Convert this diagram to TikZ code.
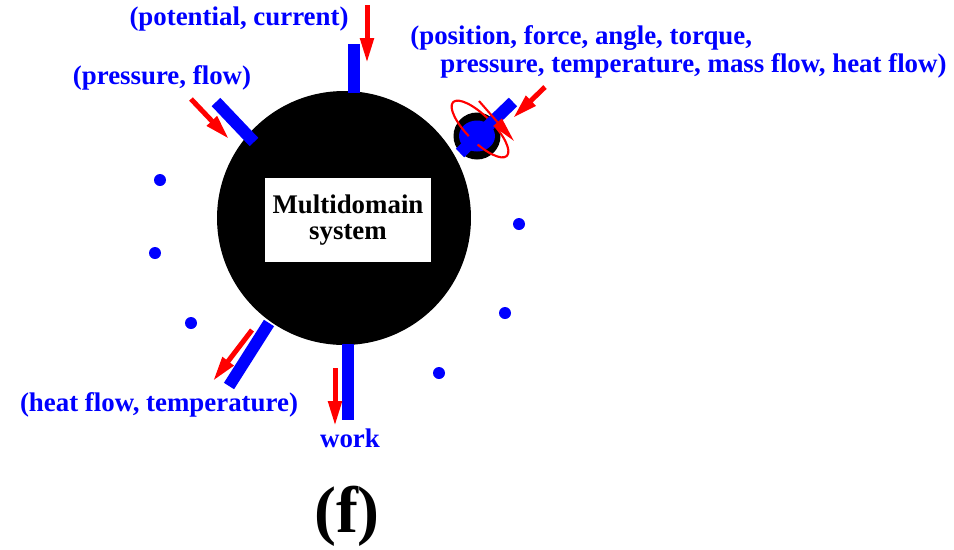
\documentclass[tikz,border=0pt]{standalone}
\usepackage{fontspec}
\setmainfont{Liberation Serif}
\usetikzlibrary{arrows.meta,shapes.geometric}

\tikzset{
  lbl/.style={text=blue,font=\bfseries\fontsize{15.3}{17}\selectfont,inner sep=0pt},
  bar/.style={blue,line width=0.24cm},
  flow/.style={red,line width=0.1cm,-{Triangle[length=0.5cm,width=0.26cm]}},
  dot/.style={circle,fill=blue,inner sep=0pt,minimum size=0.24cm},
}

\begin{document}
\begin{tikzpicture}[x=0.02cm,y=-0.02cm]
\useasboundingbox (0,0) rectangle (954,549);
% system
\node[circle,fill=black,minimum size=5.08cm,inner sep=0pt] (sys) at (344,218) {};
\node[fill=white,minimum width=3.34cm,minimum height=1.68cm,align=center,font=\bfseries\fontsize{15.3}{14.8}\selectfont] (box) at (348,220) {Multidomain\\system};
% ports
\coordinate (p1a) at (354,44);
\coordinate (p1b) at (354,93);
\coordinate (p2a) at (216,102);
\coordinate (p2b) at (254,142);
\coordinate (p3a) at (460,153);
\coordinate (p3b) at (513,102);
\coordinate (p4a) at (269,323);
\coordinate (p4b) at (229,386);
\coordinate (p5a) at (348,344);
\coordinate (p5b) at (348,420);
\draw[bar] (p1a) -- (p1b);
\draw[bar] (p2a) -- (p2b);
\draw[bar] (p4a) -- (p4b);
\draw[bar] (p5a) -- (p5b);
% rotating port
\node[circle,fill=black,minimum size=0.94cm,inner sep=0pt] (ball) at (477,136) {};
\node[ellipse,fill=blue,minimum width=0.72cm,minimum height=0.62cm,inner sep=0pt] (core) at (477,136) {};
\draw[red,line width=1.2pt,rotate around={-45:(480,129)}] (480,129) ellipse (38 and 13);
\draw[bar] (p3a) -- (p3b);
\coordinate (r1) at (479,101);
\coordinate (r2) at (514,141);
\draw[red,line width=1.2pt,-{Triangle[length=0.5cm,width=0.22cm]}] (r1) -- (r2);
% flows
\coordinate (f1a) at (367,5);
\coordinate (f1b) at (367,63);
\coordinate (f2a) at (191,99);
\coordinate (f2b) at (229,139);
\coordinate (f3a) at (545,87);
\coordinate (f3b) at (513,118);
\coordinate (f4a) at (252,330);
\coordinate (f4b) at (213,381);
\coordinate (f5a) at (335,368);
\coordinate (f5b) at (335,426);
\draw[flow] (f1a) -- (f1b);
\draw[flow] (f2a) -- (f2b);
\draw[flow] (f3a) -- (f3b);
\draw[flow] (f4a) -- (f4b);
\draw[flow] (f5a) -- (f5b);
% labels
\node[lbl] (l1) at (239,19) {(potential, current)};
\node[lbl] (l2) at (162,78) {(pressure, flow)};
\node[lbl,anchor=west] (l3) at (410,38) {(position, force, angle, torque,};
\node[lbl,anchor=west] (l3b) at (440,66) {pressure, temperature, mass flow, heat flow)};
\node[lbl] (l4) at (159,405) {(heat flow, temperature)};
\node[lbl] (l5) at (350,438) {work};
% dots
\foreach \p [count=\i] in {(160,180),(155,253),(191,323),(519,224),(505,313),(439,373)}
  \node[dot] (d\i) at \p {};
\node[font=\bfseries\fontsize{37.5}{40}\selectfont] (tag) at (347,516) {(f)};
\end{tikzpicture}
\end{document}
